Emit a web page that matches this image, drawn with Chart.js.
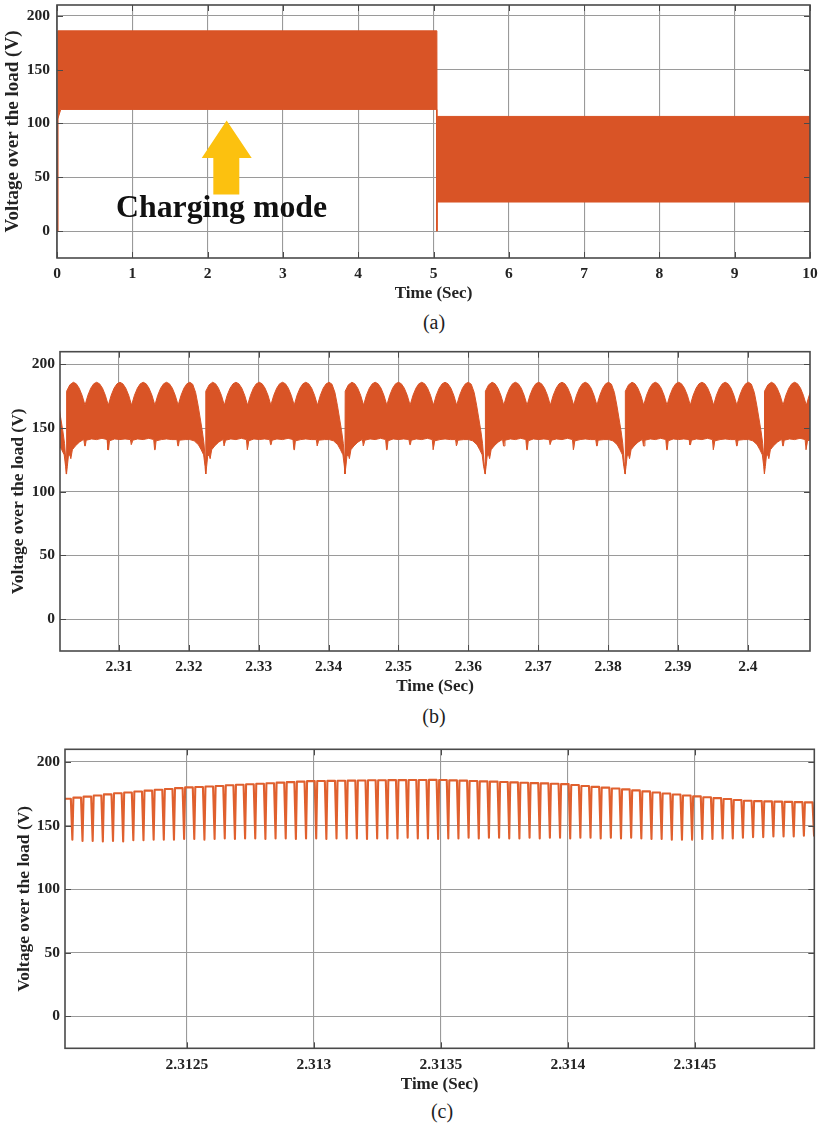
<!DOCTYPE html>
<html>
<head>
<meta charset="utf-8">
<script src="https://cdn.jsdelivr.net/npm/chart.js@4.4.1/dist/chart.umd.min.js"></script>
<style>
  html, body { margin: 0; padding: 0; background: #fff; }
  body { width: 822px; height: 1125px; position: relative; overflow: hidden;
         font-family: 'Liberation Serif', 'Times New Roman', serif; }
  .panel { position: absolute; left: 0; width: 822px; }
  .panel canvas { display: block; }
  .cap { position: absolute; width: 80px; text-align: center; font-size: 20px;
         line-height: 24px; color: #1e1e1e; }
</style>
</head>
<body>
<div class="panel" style="top:0px"><canvas id="chartA" width="822" height="305"></canvas></div>
<div class="cap" style="left:394px;top:310px">(a)</div>
<div class="panel" style="top:340px"><canvas id="chartB" width="822" height="358"></canvas></div>
<div class="cap" style="left:394px;top:704px">(b)</div>
<div class="panel" style="top:730px"><canvas id="chartC" width="822" height="366"></canvas></div>
<div class="cap" style="left:402px;top:1099px">(c)</div>

<script>
// ---------- shared axis data ----------
const yTickValues = [0, 50, 100, 150, 200];
const yRange = [-25, 210];

// ---------- (a) load voltage over the full 10 s run: envelope of the switching band ----------
const aXTicks = [0, 1, 2, 3, 4, 5, 6, 7, 8, 9, 10];
const aXRange = [0, 10];
const aUpperTime = [0, 0.012, 5.045, 5.047, 10];
const aUpperVolt = [0, 186, 186, 106.5, 106.5];
const aLowerTime = [0, 0.01, 0.05, 5.04, 5.043, 5.047, 5.05, 10];
const aLowerVolt = [0, 104, 113, 113, 0, 0, 27, 27];

// "Charging mode" note with its arrow (time, volt)
const modeLabel = 'Charging mode';
const modeLabelT = 0.784, modeLabelV = 12.7;
const arrowTipT = 2.253, arrowTipV = 102.8;
const arrowHeadT = [1.922, 2.586], arrowHeadBaseV = 68;
const arrowShaftT = [2.076, 2.421], arrowShaftBottomV = 34;

// ---------- (b) 2.30 s – 2.41 s: band envelope, one 20 ms line period after each dip ----------
const bXTicks = [2.31, 2.32, 2.33, 2.34, 2.35, 2.36, 2.37, 2.38, 2.39, 2.4];
const bXTickLabels = ['2.31', '2.32', '2.33', '2.34', '2.35', '2.36', '2.37', '2.38', '2.39', '2.4'];
const bXRange = [2.30155, 2.4089];
const bDipTimes = [2.28250, 2.30246, 2.32240, 2.34233, 2.36240, 2.38243, 2.40237];
const bUpperOffsetMs = [0, 0.04, 0.5, 1.0, 1.42, 1.83, 2.25, 2.67, 3.08, 3.5, 3.92, 4.33,
  4.75, 5.17, 5.58, 6.0, 6.42, 6.83, 7.25, 7.67, 8.08, 8.5, 8.92, 9.33, 9.75, 10.17, 10.58, 11.0,
  11.42, 11.83, 12.25, 12.67, 13.08, 13.5, 13.92, 14.33, 14.75, 15.17, 15.58, 16.0, 16.42, 16.83,
  17.25, 17.67, 18.08, 18.5, 18.85, 19.15, 19.45, 19.7, 19.9];
const bUpperVolt = [114, 179, 184, 186, 184.8, 181.4, 175.8, 168, 175.8, 181.4, 184.8, 186,
  184.8, 181.4, 175.8, 168, 175.8, 181.4, 184.8, 186, 184.8, 181.4, 175.8, 168, 175.8, 181.4, 184.8, 186,
  184.8, 181.4, 175.8, 168, 175.8, 181.4, 184.8, 186, 184.8, 181.4, 175.8, 168, 175.8, 181.4,
  184.8, 186, 184.5, 178, 168, 158, 148, 138, 124];
const bLowerOffsetMs = [0, 0.14, 0.29, 0.5, 0.64, 0.86, 1.29, 1.86, 2.3, 2.5, 2.63, 2.71, 2.84,
  3.6, 4.33, 5.1, 5.83, 5.96, 6.04, 6.17, 6.9, 7.67, 8.4, 9.16, 9.29, 9.37, 9.5, 10.2, 11.0, 11.8,
  12.5, 12.63, 12.71, 12.84, 13.6, 14.33, 15.1, 15.83, 15.96, 16.04, 16.17, 17.0, 17.67, 18.3,
  18.9, 19.3, 19.65, 19.85];
const bLowerVolt = [114, 120, 128, 129, 126, 133, 136, 139, 140.5, 141, 136, 136, 140.5,
  141.5, 141, 142, 141, 133, 133, 140, 141.5, 141, 141.5, 141, 137, 137, 140.5, 141.5, 141, 142,
  141, 133, 133, 140, 141, 141.5, 141, 141, 136, 136, 140.5, 141, 141, 140,
  137, 133, 129, 120];

// ---------- (c) 2.3120 s – 2.3150 s: individual switching cycles ----------
const cXTicks = [2.3125, 2.313, 2.3135, 2.314, 2.3145];
const cXTickLabels = ['2.3125', '2.313', '2.3135', '2.314', '2.3145'];
const cXRange = [2.31202, 2.31497];
const cLegTimes = [
  2.312043, 2.312083, 2.312123, 2.312163, 2.312203, 2.312243, 2.312283, 2.312323, 2.312363, 2.312403,
  2.312443, 2.312483, 2.312523, 2.312563, 2.312603, 2.312643, 2.312683, 2.312723, 2.312763, 2.312803,
  2.312843, 2.312883, 2.312923, 2.312963, 2.313003, 2.313043, 2.313083, 2.313123, 2.313163, 2.313203,
  2.313243, 2.313283, 2.313323, 2.313363, 2.313403, 2.313443, 2.313483, 2.313523, 2.313563, 2.313603,
  2.313643, 2.313683, 2.313723, 2.313763, 2.313803, 2.313843, 2.313883, 2.313923, 2.313963, 2.314003,
  2.314043, 2.314083, 2.314123, 2.314163, 2.314203, 2.314243, 2.314283, 2.314323, 2.314363, 2.314403,
  2.314443, 2.314483, 2.314523, 2.314563, 2.314603, 2.314643, 2.314683, 2.314723, 2.314763, 2.314803,
  2.314843, 2.314883, 2.314923, 2.314963];
const cTopVolt = [
  171.1, 172.0, 172.8, 173.7, 174.6, 175.5, 176.1, 176.8, 177.5, 178.2,
  178.8, 179.5, 180.1, 180.4, 180.8, 181.2, 181.7, 182.1, 182.5, 182.9,
  183.3, 183.8, 184.2, 184.6, 185.0, 185.1, 185.2, 185.3, 185.4, 185.5,
  185.7, 185.7, 185.8, 185.8, 185.9, 185.9, 186.0, 185.9, 185.6, 185.4,
  185.1, 184.8, 184.6, 184.3, 184.0, 183.7, 183.4, 183.2, 182.9, 182.6,
  181.9, 181.2, 180.5, 179.9, 179.2, 178.5, 177.7, 176.9, 176.1, 175.3,
  174.5, 173.7, 173.0, 172.3, 171.6, 170.9, 170.2, 169.6, 169.3, 169.1,
  168.9, 168.7, 168.5, 168.3, 168.3];
const cBottomVolt = [
  139, 138, 138, 137.5, 138, 137.5, 138.5, 138.5, 139, 139,
  139, 139.5, 139.5, 139, 139.5, 140, 139.5, 140, 140, 139.5,
  140, 140, 139.5, 140, 140, 139.5, 140, 140, 140, 139.5,
  140, 140, 140, 140.5, 140, 140, 139.5, 140, 140, 140.5,
  140, 140.5, 140.5, 140, 140, 140.5, 140, 140.5, 140.5, 140,
  140.5, 140.5, 140, 140.5, 140, 140.5, 140, 139.5, 139.5, 139,
  139, 139, 139.5, 139.5, 140, 140, 140.5, 141, 141, 141.5,
  141.5, 141.5, 142, 142];

// ---------- styling ----------
const SERIF = "'Liberation Serif', 'Times New Roman', serif";
const BAND = '#D95426';
const TRACE = '#E0602E';
const GRID = '#9a9a9a';
const FRAME = '#4a4a4a';
const INK = '#232323';
// switching edge shape: fall duration and fall+rise duration (s)
const FALL_S = 0.000006, EDGE_S = 0.00001;

function pairs(xs, ys) { return xs.map((x, i) => ({ x, y: ys[i] })); }

function periodic(dips, offsetsMs, volts) {
  const pts = [];
  dips.forEach(d => offsetsMs.forEach((o, i) => pts.push({ x: d + o / 1000, y: volts[i] })));
  return pts;
}

function switchingTrace() {
  const pts = [{ x: cXRange[0], y: cTopVolt[0] }];
  cLegTimes.forEach((t, k) => {
    pts.push({ x: t, y: cTopVolt[k] });
    pts.push({ x: t + FALL_S, y: cBottomVolt[k] });
    pts.push({ x: t + EDGE_S, y: cTopVolt[k + 1] });
  });
  pts.push({ x: cXRange[1], y: cTopVolt[cTopVolt.length - 1] });
  return pts;
}

const framePlugin = {
  id: 'frame',
  afterDatasetsDraw(chart) {
    const { ctx, chartArea: { left, top, right, bottom } } = chart;
    const xs = chart.scales.x, ys = chart.scales.y;
    ctx.save();
    ctx.strokeStyle = FRAME;
    ctx.lineWidth = 1;
    ctx.beginPath();
    xs.ticks.forEach(t => {
      const p = Math.round(xs.getPixelForValue(t.value)) + 0.5;
      ctx.moveTo(p, top); ctx.lineTo(p, top + 6);
      ctx.moveTo(p, bottom); ctx.lineTo(p, bottom - 6);
    });
    ys.ticks.forEach(t => {
      const p = Math.round(ys.getPixelForValue(t.value)) + 0.5;
      ctx.moveTo(left, p); ctx.lineTo(left + 6, p);
      ctx.moveTo(right, p); ctx.lineTo(right - 6, p);
    });
    ctx.stroke();
    ctx.lineWidth = 1.6;
    ctx.strokeRect(left, top, right - left, bottom - top);
    ctx.restore();
  }
};

const modeNotePlugin = {
  id: 'modeNote',
  afterDatasetsDraw(chart) {
    const xs = chart.scales.x, ys = chart.scales.y, ctx = chart.ctx;
    const px = v => xs.getPixelForValue(v), py = v => ys.getPixelForValue(v);
    ctx.save();
    ctx.fillStyle = '#FCC10F';
    ctx.beginPath();
    ctx.moveTo(px(arrowTipT), py(arrowTipV));
    ctx.lineTo(px(arrowHeadT[1]), py(arrowHeadBaseV));
    ctx.lineTo(px(arrowShaftT[1]), py(arrowHeadBaseV));
    ctx.lineTo(px(arrowShaftT[1]), py(arrowShaftBottomV));
    ctx.lineTo(px(arrowShaftT[0]), py(arrowShaftBottomV));
    ctx.lineTo(px(arrowShaftT[0]), py(arrowHeadBaseV));
    ctx.lineTo(px(arrowHeadT[0]), py(arrowHeadBaseV));
    ctx.closePath();
    ctx.fill();
    ctx.font = "bold 31.8px " + SERIF;
    ctx.fillStyle = '#111';
    ctx.textBaseline = 'alphabetic';
    ctx.textAlign = 'left';
    ctx.fillText(modeLabel, px(modeLabelT), py(modeLabelV));
    ctx.restore();
  }
};

function makeOptions(cfg) {
  return {
    responsive: false,
    animation: false,
    devicePixelRatio: 1,
    events: [],
    layout: { autoPadding: false, padding: cfg.padding },
    plugins: { legend: { display: false }, tooltip: { enabled: false } },
    elements: { point: { radius: 0 }, line: { tension: 0 } },
    scales: {
      x: {
        type: 'linear',
        min: cfg.xRange[0], max: cfg.xRange[1],
        afterBuildTicks: ax => { ax.ticks = cfg.xTicks.map(v => ({ value: v })); },
        afterFit: ax => { ax.height = cfg.xHeight; ax.paddingLeft = 0; ax.paddingRight = 0; },
        grid: { color: GRID, lineWidth: 1.1, drawTicks: false },
        border: { display: false },
        ticks: {
          padding: 7, color: INK, autoSkip: false, maxRotation: 0,
          font: { family: SERIF, size: 15.5, weight: 'bold' },
          callback: (v, i) => cfg.xLabels[i]
        },
        title: {
          display: true, text: 'Time (Sec)', color: INK,
          font: { family: SERIF, size: 17, weight: 'bold' },
          padding: { top: 0, bottom: 1 }
        }
      },
      y: {
        type: 'linear',
        min: yRange[0], max: yRange[1],
        afterBuildTicks: ax => { ax.ticks = yTickValues.map(v => ({ value: v })); },
        afterFit: ax => { ax.width = cfg.yWidth; ax.paddingTop = 0; ax.paddingBottom = 0; },
        grid: { color: GRID, lineWidth: 1.1, drawTicks: false },
        border: { display: false },
        ticks: {
          padding: cfg.yTickPad, color: INK,
          font: { family: SERIF, size: 15.5, weight: 'bold' },
          callback: v => String(v)
        },
        title: {
          display: true, text: 'Voltage over the load (V)', color: INK,
          font: { family: SERIF, size: cfg.yTitleSize, weight: 'bold' },
          padding: { top: cfg.yTitlePad, bottom: 0 }
        }
      }
    }
  };
}

function bandDatasets(upper, lower) {
  return [
    { data: upper, borderColor: BAND, backgroundColor: BAND, borderWidth: 1, fill: '+1' },
    { data: lower, borderColor: BAND, backgroundColor: BAND, borderWidth: 1, fill: false }
  ];
}

// (a)
new Chart(document.getElementById('chartA'), {
  type: 'line',
  data: { datasets: bandDatasets(pairs(aUpperTime, aUpperVolt), pairs(aLowerTime, aLowerVolt)) },
  options: makeOptions({
    xRange: aXRange, xTicks: aXTicks, xLabels: aXTicks.map(String),
    padding: { top: 5, right: 12, bottom: 0, left: 0 },
    xHeight: 47, yWidth: 57, yTickPad: 7, yTitleSize: 19, yTitlePad: 2
  }),
  plugins: [modeNotePlugin, framePlugin]
});

// (b)
new Chart(document.getElementById('chartB'), {
  type: 'line',
  data: { datasets: bandDatasets(periodic(bDipTimes, bUpperOffsetMs, bUpperVolt),
                                 periodic(bDipTimes, bLowerOffsetMs, bLowerVolt)) },
  options: makeOptions({
    xRange: bXRange, xTicks: bXTicks, xLabels: bXTickLabels,
    padding: { top: 11.7, right: 12, bottom: 0, left: 0 },
    xHeight: 47, yWidth: 60, yTickPad: 5, yTitleSize: 17.5, yTitlePad: 7.5
  }),
  plugins: [framePlugin]
});

// (c)
new Chart(document.getElementById('chartC'), {
  type: 'line',
  data: { datasets: [{ data: switchingTrace(), borderColor: TRACE, borderWidth: 2.1,
                       borderJoinStyle: 'round', fill: false }] },
  options: makeOptions({
    xRange: cXRange, xTicks: cXTicks, xLabels: cXTickLabels,
    padding: { top: 19.3, right: 7.7, bottom: 0, left: 0 },
    xHeight: 47.7, yWidth: 65, yTickPad: 5, yTitleSize: 17.5, yTitlePad: 14
  }),
  plugins: [framePlugin]
});
</script>
</body>
</html>
